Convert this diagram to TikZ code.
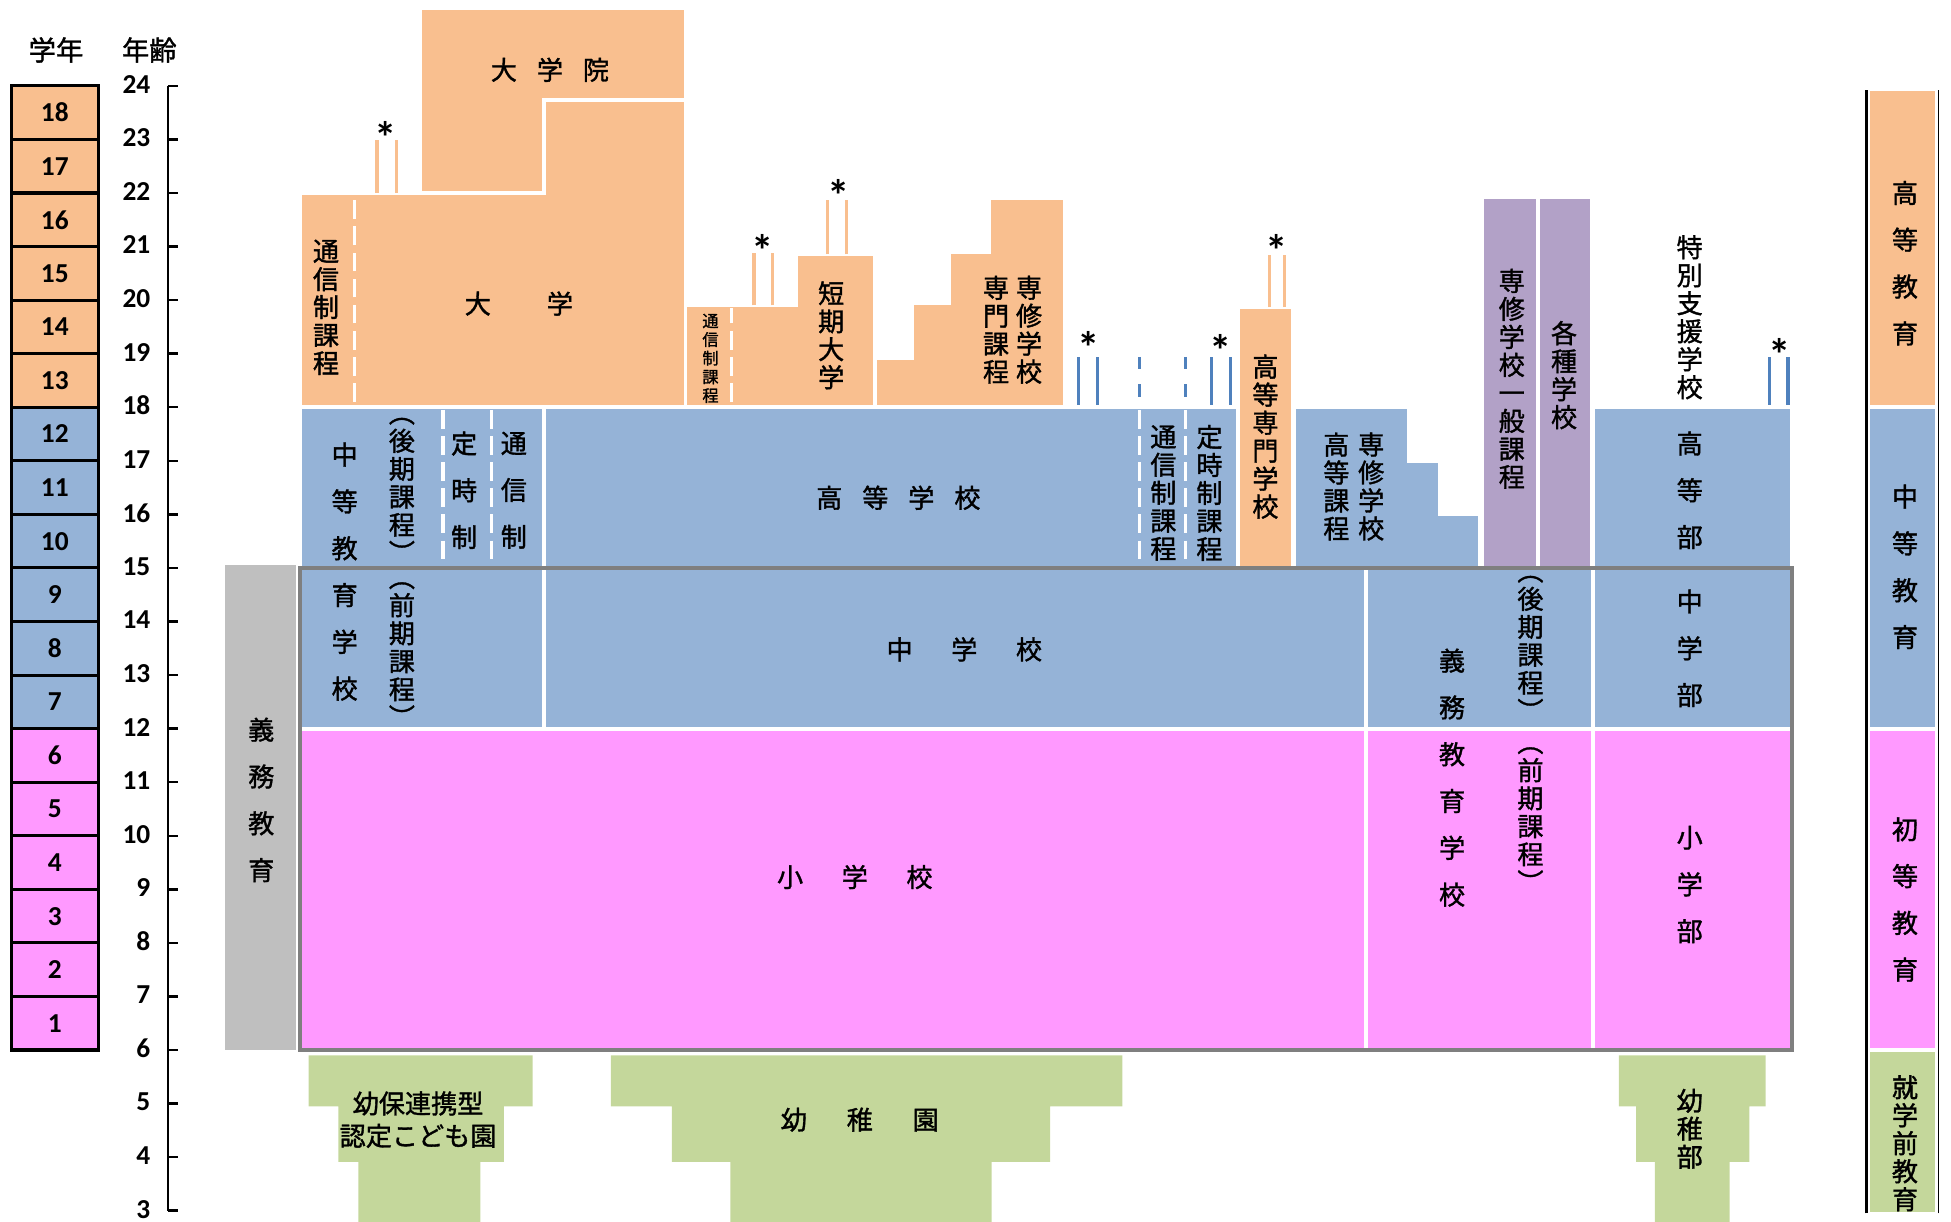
\documentclass[tikz,border=0pt]{standalone}
\usepackage{fontspec}
\setmainfont{Carlito}
\newfontfamily\jp[FakeBold=1.3]{Noto Sans CJK JP}
\usetikzlibrary{positioning}

\definecolor{orng}{HTML}{F9BF8F}
\definecolor{blu}{HTML}{95B3D7}
\definecolor{pnk}{HTML}{FF99FF}
\definecolor{grn}{HTML}{C4D79B}
\definecolor{prpl}{HTML}{B2A1C7}
\definecolor{gry}{HTML}{BFBFBF}
\definecolor{frm}{HTML}{7F7F7F}
\definecolor{lblue}{HTML}{4F81BD}

\tikzset{
  blk/.style={draw=white, line width=3pt},
  wdash/.style={draw=white, line width=2.5pt, dash pattern=on 15pt off 6pt},
  bdash/.style={draw=lblue, line width=2.5pt, dash pattern=on 10pt off 12pt},
  pair/.style={line width=2.5pt},
  lbl/.style={font=\jp\fontsize{21}{22.5}\selectfont, align=center, inner sep=0pt},
  lblw/.style={font=\jp\fontsize{21}{37.6}\selectfont, align=center, inner sep=0pt},
  num/.style={font=\bfseries\fontsize{22}{22}\selectfont, inner sep=0pt},
  ast/.style={font=\bfseries\fontsize{36}{36}\selectfont, inner sep=0pt},
}

\begin{document}
\begin{tikzpicture}[x=1pt, y=43.05pt]
	\useasboundingbox (0,2.792) rectangle (1568,25.603);

	% grade column
	\foreach \g in {1,...,6} \draw[fill=pnk, line width=2.5pt] (9,\g+5) rectangle (79,\g+6);
	\foreach \g in {7,...,12} \draw[fill=blu, line width=2.5pt] (9,\g+5) rectangle (79,\g+6);
	\foreach \g in {13,...,18} \draw[fill=orng, line width=2.5pt] (9,\g+5) rectangle (79,\g+6);
	\foreach \g in {1,...,18} \node[num] (g\g) at (44,\g+5.5) {\g};

	% age axis
	\draw[line width=2pt] (135,3) -- (135,24);
	\foreach \a in {3,...,24} {
		\draw[line width=2pt] (135,\a) -- (143,\a);
		\node[num, anchor=east] (a\a) at (121,\a+0.03) {\a};
	}
	\node[lbl, font=\jp\fontsize{22}{22}\selectfont] (hdgrade) at (45,24.67) {学年};
	\node[lbl, font=\jp\fontsize{22}{22}\selectfont] (hdage) at (120,24.67) {年齢};

	% higher education
	\path[blk, fill=orng] (241,18) -- (241,22) -- (437,22) -- (437,23.74) -- (551,23.74) -- (551,18) -- cycle;
	\path[blk, fill=orng] (338,22) -- (338,25.45) -- (551,25.45) -- (551,23.74) -- (437,23.74) -- (437,22) -- cycle;
	\path[blk, fill=orng] (551,18) -- (551,19.9) -- (640,19.9) -- (640,20.86) -- (703,20.86) -- (703,18) -- cycle;
	\path[blk, fill=orng] (703,18) -- (703,18.92) -- (733,18.92) -- (733,19.95) -- (763,19.95) -- (763,20.9) -- (795,20.9) -- (795,21.9) -- (856,21.9) -- (856,18) -- cycle;
	\draw[wdash] (285,18.1) -- (285,21.95);
	\draw[wdash] (588,18.1) -- (588,19.85);

	% secondary
	\path[blk, fill=blu] (241,12) rectangle (437,18);
	\path[blk, fill=blu] (437,15) rectangle (995,18);
	\path[blk, fill=blu] (437,12) rectangle (1098,15);
	\path[blk, fill=blu] (1040,15) -- (1040,18) -- (1132,18) -- (1132,17) -- (1157,17) -- (1157,16) -- (1189,16) -- (1189,15) -- cycle;
	\path[blk, fill=blu] (1098,12) rectangle (1280,15);
	\path[blk, fill=blu] (1280,12) rectangle (1441,15);
	\path[blk, fill=blu] (1280,15) rectangle (1440,18);
	\path[blk, fill=orng] (995,15) rectangle (1039,19.87);
	\path[blk, fill=prpl] (1191.5,15) rectangle (1236,21.92);
	\path[blk, fill=prpl] (1236,15) rectangle (1279.5,21.92);
	\foreach \x in {356,395,916,953} \draw[wdash] (\x,17.95) -- (\x,15.05);

	% primary
	\path[blk, fill=pnk] (241,6) rectangle (1098,12);
	\path[blk, fill=pnk] (1098,6) rectangle (1280,12);
	\path[blk, fill=pnk] (1280,6) rectangle (1441,12);
	\fill[gry] (181,6) rectangle (238,15.05);

	% pre-school
	\fill[grn] (248,5.9) -- (428,5.9) -- (428,4.95) -- (405,4.95) -- (405,3.91) -- (386,3.91) -- (386,2.7) -- (288,2.7) -- (288,3.91) -- (272,3.91) -- (272,4.95) -- (248,4.95) -- cycle;
	\fill[grn] (491,5.9) -- (902,5.9) -- (902,4.95) -- (844,4.95) -- (844,3.91) -- (797,3.91) -- (797,2.7) -- (587,2.7) -- (587,3.91) -- (540,3.91) -- (540,4.95) -- (491,4.95) -- cycle;
	\fill[grn] (1301,5.9) -- (1419,5.9) -- (1419,4.95) -- (1406,4.95) -- (1406,3.91) -- (1390,3.91) -- (1390,2.7) -- (1330,2.7) -- (1330,3.91) -- (1315,3.91) -- (1315,4.95) -- (1301,4.95) -- cycle;

	% compulsory frame
	\draw[frm, line width=3pt] (241,6) rectangle (1440,15);

	% marks *
	\foreach \x in {303,319} \draw[orng, pair] (\x,22) -- (\x,22.98);
	\foreach \x in {606,621} \draw[orng, pair] (\x,19.9) -- (\x,20.88);
	\foreach \x in {665,680} \draw[orng, pair] (\x,20.86) -- (\x,21.86);
	\foreach \x in {1020,1032} \draw[orng, pair] (\x,19.87) -- (\x,20.85);
	\foreach \x in {867,882,974,989,1422,1437} \draw[lblue, pair] (\x,18.05) -- (\x,18.93);
	\foreach \x in {916,953} \draw[bdash] (\x,18.94) -- (\x,18.05);
	\foreach \n/\x/\y in {st1/310/23.03, st2/613/20.92, st3/674/21.96, st4/875/19.11, st5/981/19.06, st6/1026/20.92, st7/1430/18.99}
		\node[ast] (\n) at (\x,\y) {*};

	% right column
	\path[blk, fill=orng] (1501,18) rectangle (1557,23.93);
	\path[blk, fill=blu] (1501,12) rectangle (1557,18);
	\path[blk, fill=pnk] (1501,6) rectangle (1557,12);
	\path[blk, fill=grn] (1501,2.95) rectangle (1557,6);
	\draw[line width=2.5pt] (1500,2.95) -- (1500,23.93);
	\draw[line width=0.8pt] (1558,2.95) -- (1558,23.93);

	% labels
	\node[lbl] (gs) at (442,24.30) {大\hspace{16pt}学\hspace{16pt}院};
	\node[lbl] (univ) at (417,19.935) {大\hspace{45pt}学};
	\node[lbl] (univcorr) at (262,19.865) {通\\信\\制\\課\\程};
	\node[lbl, font=\jp\fontsize{13}{15}\selectfont] (jccorr) at (571,18.913) {通\\信\\制\\課\\程};
	\node[lbl] (jc) at (668,19.343) {短\\期\\大\\学};
	\node[lbl] (spc1) at (800.5,19.447) {専\\門\\課\\程};
	\node[lbl] (spc2) at (827,19.447) {専\\修\\学\\校};
	\node[lbl] (hs) at (722,16.31) {高\hspace{16pt}等\hspace{16pt}学\hspace{16pt}校};
	\node[lbl] (hscorr) at (935,16.40) {通\\信\\制\\課\\程};
	\node[lbl] (hspart) at (972,16.40) {定\\時\\制\\課\\程};
	\node[lbl] (kosen) at (1017,17.45) {高\\等\\専\\門\\学\\校};
	\node[lbl] (spu1) at (1074,16.52) {高\\等\\課\\程};
	\node[lbl] (spu2) at (1102,16.52) {専\\修\\学\\校};
	\node[lbl] (spg) at (1215,18.53) {専\\修\\学\\校\\一\\般\\課\\程};
	\node[lbl] (misc) at (1257,18.60) {各\\種\\学\\校};
	\node[lbl] (sne) at (1358,19.68) {特\\別\\支\\援\\学\\校};
	\node[lblw] (sneh) at (1358,16.45) {高\\等\\部};
	\node[lblw] (snej) at (1358,13.50) {中\\学\\部};
	\node[lblw] (snep) at (1358,9.09) {小\\学\\部};
	\node[lbl] (snek) at (1358,4.53) {幼\\稚\\部};
	\node[lbl] (jhs) at (775,13.48) {中\hspace{31pt}学\hspace{31pt}校};
	\node[lbl] (ps) at (687,9.23) {小\hspace{31pt}学\hspace{31pt}校};
	\node[lblw] (ss) at (277,14.93) {中\\等\\教\\育\\学\\校};
	\node[lbl] (sslate) at (323,16.45) {︵\\後\\期\\課\\程\\︶};
	\node[lbl] (ssearly) at (323,13.38) {︵\\前\\期\\課\\程\\︶};
	\node[lblw] (sspart) at (373,16.45) {定\\時\\制};
	\node[lblw] (sscorr) at (413,16.45) {通\\信\\制};
	\node[lblw] (comp) at (210,10.67) {義\\務\\教\\育};
	\node[lblw] (cs) at (1167,11.085) {義\\務\\教\\育\\学\\校};
	\node[lbl] (cslate) at (1230,13.50) {︵\\後\\期\\課\\程\\︶};
	\node[lbl] (csearly) at (1230,10.30) {︵\\前\\期\\課\\程\\︶};
	\node[lbl] (kg) at (691,4.70) {幼\hspace{32pt}稚\hspace{32pt}園};
	\node[lbl, font=\jp\fontsize{21}{26}\selectfont] (ccc) at (336,4.70) {幼保連携型\\認定こども園};
	\node[lblw] (higher) at (1531,20.69) {高\\等\\教\\育};
	\node[lblw] (second) at (1531,15.02) {中\\等\\教\\育};
	\node[lblw] (prim) at (1531,8.81) {初\\等\\教\\育};
	\node[lbl] (pre) at (1531,4.26) {就\\学\\前\\教\\育};

\end{tikzpicture}
\end{document}
